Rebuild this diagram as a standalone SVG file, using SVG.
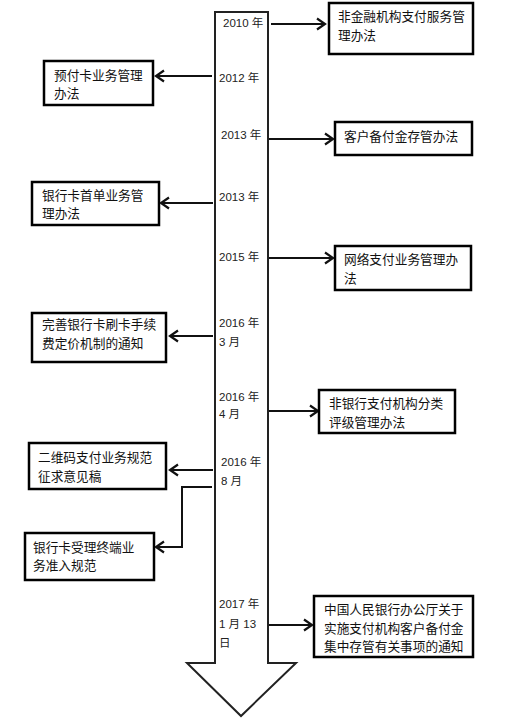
<svg xmlns="http://www.w3.org/2000/svg" width="511" height="722" viewBox="0 0 511 722">
<defs>
<style>
.box{fill:#fff;stroke:#000;stroke-width:2.5}
.bt{font-family:"Noto Sans CJK SC","Liberation Sans",sans-serif;font-size:12.7px;fill:#111}
.lb{font-family:"Liberation Sans","Noto Sans CJK SC",sans-serif;font-size:11.5px;fill:#222}
.cn{fill:none;stroke:#111;stroke-width:2}
</style>
<marker id="ah" markerUnits="userSpaceOnUse" markerWidth="12" markerHeight="14" viewBox="0 0 12 14" refX="10" refY="7" orient="auto">
<path d="M2,1.5 L10,7 L2,12.5" fill="none" stroke="#111" stroke-width="2.2"/>
</marker>
</defs>
<rect width="511" height="722" fill="#fff"/>
<g id="timeline">
<path d="M215,12 L268,12 L268,663 L296,663 L241,716 L187,663 L215,663 Z" fill="#fff" stroke="#222" stroke-width="2"/>
<text class="lb" x="223" y="27">2010 年</text>
<text class="lb" x="219" y="82">2012 年</text>
<text class="lb" x="221" y="139">2013 年</text>
<text class="lb" x="219" y="201">2013 年</text>
<text class="lb" x="219" y="261">2015 年</text>
<text class="lb" x="219" y="327">2016 年</text>
<text class="lb" x="219" y="346">3 月</text>
<text class="lb" x="219" y="401">2016 年</text>
<text class="lb" x="219" y="418">4 月</text>
<text class="lb" x="221" y="466">2016 年</text>
<text class="lb" x="221" y="485">8 月</text>
<text class="lb" x="219" y="608">2017 年</text>
<text class="lb" x="219" y="628">1 月 13</text>
<text class="lb" x="219" y="647">日</text>
</g>
<g id="connectors">
<line class="cn" x1="271" y1="24" x2="325" y2="24" marker-end="url(#ah)"/>
<line class="cn" x1="212" y1="76" x2="156" y2="76" marker-end="url(#ah)"/>
<line class="cn" x1="269" y1="139" x2="333" y2="139" marker-end="url(#ah)"/>
<line class="cn" x1="213" y1="203" x2="161" y2="203" marker-end="url(#ah)"/>
<line class="cn" x1="269" y1="258" x2="333" y2="258" marker-end="url(#ah)"/>
<line class="cn" x1="213" y1="336" x2="170" y2="336" marker-end="url(#ah)"/>
<line class="cn" x1="269" y1="411" x2="318" y2="411" marker-end="url(#ah)"/>
<line class="cn" x1="213" y1="470" x2="170" y2="470" marker-end="url(#ah)"/>
<polyline class="cn" points="212,487 182,487 182,547 156,547" marker-end="url(#ah)"/>
<line class="cn" x1="269" y1="625" x2="312" y2="625" marker-end="url(#ah)"/>
</g>
<g id="n1">
<rect class="box" x="329" y="3" width="144" height="51"/>
<text class="bt" x="338" y="21">非金融机构支付服务管</text>
<text class="bt" x="338" y="40">理办法</text>
</g>
<g id="n2">
<rect class="box" x="44" y="61" width="109" height="44"/>
<text class="bt" x="54" y="80">预付卡业务管理</text>
<text class="bt" x="54" y="98">办法</text>
</g>
<g id="n3">
<rect class="box" x="335" y="122" width="137" height="33"/>
<text class="bt" x="344" y="141">客户备付金存管办法</text>
</g>
<g id="n4">
<rect class="box" x="32" y="182" width="127" height="43"/>
<text class="bt" x="42" y="200">银行卡首单业务管</text>
<text class="bt" x="42" y="218">理办法</text>
</g>
<g id="n5">
<rect class="box" x="335" y="246" width="136" height="44"/>
<text class="bt" x="344" y="264">网络支付业务管理办</text>
<text class="bt" x="344" y="283">法</text>
</g>
<g id="n6">
<rect class="box" x="32" y="313" width="134" height="49"/>
<text class="bt" x="42" y="329">完善银行卡刷卡手续</text>
<text class="bt" x="42" y="348">费定价机制的通知</text>
</g>
<g id="n7">
<rect class="box" x="319" y="390" width="136" height="43"/>
<text class="bt" x="329" y="408">非银行支付机构分类</text>
<text class="bt" x="329" y="427">评级管理办法</text>
</g>
<g id="n8">
<rect class="box" x="29" y="443" width="137" height="46"/>
<text class="bt" x="38" y="462">二维码支付业务规范</text>
<text class="bt" x="38" y="481">征求意见稿</text>
</g>
<g id="n9">
<rect class="box" x="25" y="533" width="129" height="47"/>
<text class="bt" x="33" y="552">银行卡受理终端业</text>
<text class="bt" x="33" y="570">务准入规范</text>
</g>
<g id="n10">
<rect class="box" x="314" y="596" width="159" height="61"/>
<text class="bt" x="324" y="614">中国人民银行办公厅关于</text>
<text class="bt" x="324" y="633">实施支付机构客户备付金</text>
<text class="bt" x="324" y="651">集中存管有关事项的通知</text>
</g>
</svg>
